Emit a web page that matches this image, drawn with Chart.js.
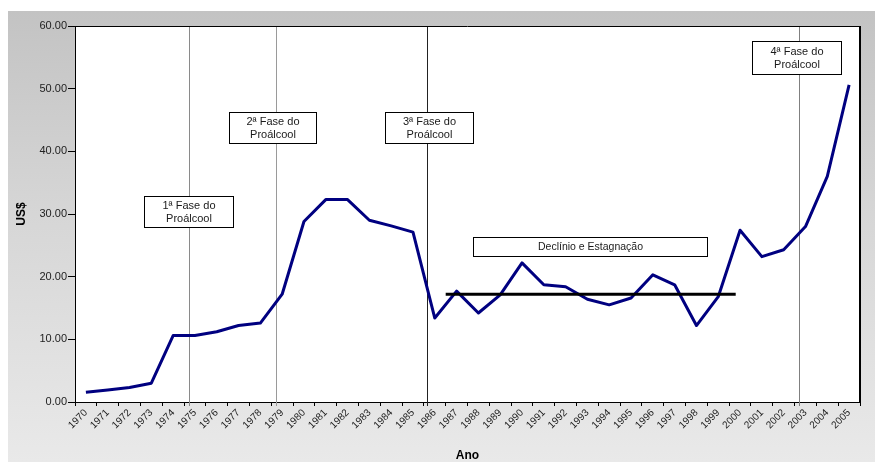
<!DOCTYPE html>
<html>
<head>
<meta charset="utf-8">
<script src="https://cdn.jsdelivr.net/npm/chart.js@4.4.1/dist/chart.umd.min.js"></script>
<style>
  html, body { margin: 0; padding: 0; background: #fff; }
  #wrap {
    position: absolute; left: 8px; top: 11px; width: 867px; height: 451px;
    background: linear-gradient(to bottom, #c3c3c3 0%, #d6d6d6 45%, #e9e9e9 100%);
  }
</style>
</head>
<body>
<div id="wrap"><canvas id="alcoolChart" width="867" height="451"></canvas></div>
<script>
// Preço do álcool (US$) por ano
const years = ['1970', '1971', '1972', '1973', '1974', '1975', '1976', '1977', '1978', '1979',
    '1980', '1981', '1982', '1983', '1984', '1985', '1986', '1987', '1988', '1989',
    '1990', '1991', '1992', '1993', '1994', '1995', '1996', '1997', '1998', '1999',
    '2000', '2001', '2002', '2003', '2004', '2005'];
const prices = [1.55, 1.9, 2.3, 3.0, 10.6, 10.6, 11.2, 12.2, 12.6, 17.2,
    28.8, 32.3, 32.3, 29.0, 28.1, 27.1, 13.4, 17.7, 14.2, 17.1,
    22.2, 18.7, 18.4, 16.4, 15.5, 16.6, 20.3, 18.7, 12.2, 16.8,
    27.4, 23.2, 24.3, 28.0, 36.0, 50.6];

// phase markers (category index positions) and text boxes (data units)
const phaseLines = [4.74, 8.72, 15.64, 32.72];
const boxLabels = [['1ª Fase do', 'Proálcool'], ['2ª Fase do', 'Proálcool'], ['3ª Fase do', 'Proálcool'],
    ['4ª Fase do', 'Proálcool'], ['Declínio e Estagnação']];
const boxX = [[2.66, 6.74], [6.58, 10.53], [13.70, 17.75], [30.53, 34.65], [17.75, 28.5]];
const boxY = [[32.9, 27.97], [46.27, 41.38], [46.27, 41.38], [57.6, 52.34], [26.28, 23.3]];
// média do período de declínio
const stagnationRange = [16.5, 29.8];
const stagnationAvg = 17.2;

const FONT = "'Liberation Sans', Arial, sans-serif";
const lineColors = ['#8a8a8a', '#9a9a9a', '#222222', '#808080'];

const decorPlugin = {
    id: 'decor',
    beforeDraw(chart) {
        const a = chart.chartArea, c = chart.ctx;
        c.save();
        c.fillStyle = '#ffffff';
        c.fillRect(a.left, a.top, a.right - a.left, a.bottom - a.top);
        c.restore();
    },
    beforeDatasetsDraw(chart) {
        const a = chart.chartArea, c = chart.ctx, x = chart.scales.x;
        c.save();
        c.lineWidth = 1;
        phaseLines.forEach((v, i) => {
            const px = Math.round(x.getPixelForValue(v)) + 0.5;
            c.strokeStyle = lineColors[i];
            c.beginPath();
            c.moveTo(px, a.top);
            c.lineTo(px, a.bottom + 4);
            c.stroke();
        });
        c.restore();
    },
    afterDatasetsDraw(chart) {
        const c = chart.ctx, x = chart.scales.x, y = chart.scales.y, a = chart.chartArea;
        c.save();
        // linha média
        c.strokeStyle = '#000';
        c.lineWidth = 3;
        c.beginPath();
        c.moveTo(x.getPixelForValue(stagnationRange[0]), y.getPixelForValue(stagnationAvg));
        c.lineTo(x.getPixelForValue(stagnationRange[1]), y.getPixelForValue(stagnationAvg));
        c.stroke();

        // caixas de texto
        c.lineWidth = 1;
        boxLabels.forEach((lines, i) => {
            const x1 = Math.round(x.getPixelForValue(boxX[i][0])) + 0.5;
            const x2 = Math.round(x.getPixelForValue(boxX[i][1])) + 0.5;
            const y1 = Math.round(y.getPixelForValue(boxY[i][0])) + 0.5;
            const y2 = Math.round(y.getPixelForValue(boxY[i][1])) + 0.5;
            c.fillStyle = '#fff';
            c.fillRect(x1, y1, x2 - x1, y2 - y1);
            c.strokeStyle = '#000';
            c.strokeRect(x1, y1, x2 - x1, y2 - y1);
            c.fillStyle = '#1a1a1a';
            c.font = (lines.length > 1 ? '11px ' : '10.5px ') + FONT;
            c.textAlign = 'center';
            c.textBaseline = 'middle';
            const cx = (x1 + x2) / 2;
            const lh = 13;
            const top = (y1 + y2) / 2 - (lines.length - 1) * lh / 2;
            lines.forEach((t, k) => c.fillText(t, cx, top + k * lh));
        });

        // moldura da área do gráfico
        c.strokeStyle = '#000';
        c.lineWidth = 1;
        c.beginPath();
        c.moveTo(a.left, a.top + 0.5);
        c.lineTo(a.right, a.top + 0.5);
        c.stroke();
        c.lineWidth = 2;
        c.beginPath();
        c.moveTo(a.right, a.top);
        c.lineTo(a.right, a.bottom);
        c.stroke();
        c.restore();
    }
};

const ctx = document.getElementById('alcoolChart').getContext('2d');
const alcoolChart = new Chart(ctx, {
    type: 'line',
    data: {
        labels: years,
        datasets: [{
            label: 'US$',
            data: prices,
            borderColor: '#000080',
            borderWidth: 3,
            pointRadius: 0,
            tension: 0,
            borderJoinStyle: 'round'
        }]
    },
    options: {
        responsive: false,
        animation: false,
        layout: { padding: { top: 15, right: 15, left: 0, bottom: 0 } },
        plugins: {
            legend: { display: false },
            tooltip: { enabled: false }
        },
        scales: {
            x: {
                offset: true,
                afterFit(scale) { scale.height = 60; },
                grid: { offset: true, drawOnChartArea: false, tickLength: 4, color: '#000', tickWidth: 1 },
                border: { display: true, color: '#000', width: 1 },
                ticks: {
                    autoSkip: false, minRotation: 45, maxRotation: 45, padding: 1,
                    color: '#222', font: { family: FONT, size: 10 }
                },
                title: {
                    display: true, text: 'Ano', color: '#000',
                    font: { family: FONT, size: 12, weight: 'bold', lineHeight: 1 },
                    padding: { top: 0, bottom: 0 }
                }
            },
            y: {
                min: 0,
                max: 60,
                afterFit(scale) { scale.width = 67; },
                grid: { drawOnChartArea: false, tickLength: 7, color: '#000' },
                border: { display: true, color: '#000', width: 1 },
                ticks: {
                    stepSize: 10, padding: 1, color: '#222',
                    font: { family: FONT, size: 11 },
                    callback: v => v.toFixed(2)
                },
                title: {
                    display: true, text: 'US$', color: '#000',
                    font: { family: FONT, size: 12, weight: 'bold', lineHeight: 1 },
                    padding: { top: 8, bottom: 0 }
                }
            }
        }
    },
    plugins: [decorPlugin]
});
</script>
</body>
</html>
